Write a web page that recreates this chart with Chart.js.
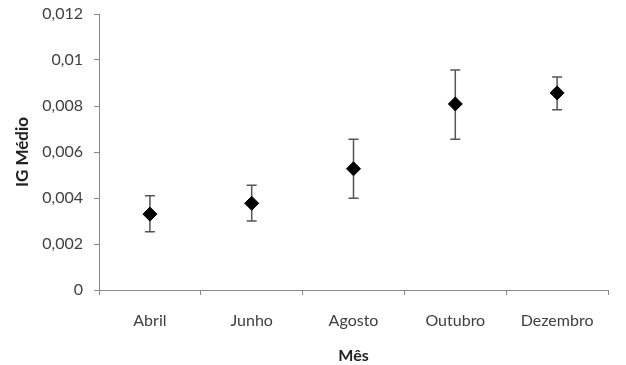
<!DOCTYPE html>
<html><head><meta charset="utf-8">
<script src="https://cdn.jsdelivr.net/npm/chart.js@4/dist/chart.umd.min.js"></script>
<style>html,body{margin:0;padding:0;background:#fff}#wrap{width:626px;height:365px}</style>
</head><body><div id="wrap"><canvas id="c" width="626" height="365"></canvas></div>
<script>
const months = ['Abril','Junho','Agosto','Outubro','Dezembro'];
const igMean = [0.0033, 0.00377, 0.00527, 0.00809, 0.00857];
const errHigh = [0.0041, 0.00455, 0.00655, 0.00957, 0.00926];
const errLow = [0.00253, 0.0030, 0.00399, 0.00655, 0.00784];
const yTicks = [0, 0.002, 0.004, 0.006, 0.008, 0.01, 0.012];

const FONT = 'Lato, "Open Sans", sans-serif';
const errorBars = {
  id: 'errorBars',
  beforeDatasetsDraw(chart) {
    const ctx = chart.ctx, xs = chart.scales.x, ys = chart.scales.y;
    ctx.save();
    ctx.strokeStyle = '#555';
    ctx.lineWidth = 1.5;
    months.forEach((m, i) => {
      const x = xs.getPixelForValue(i);
      const yt = ys.getPixelForValue(errHigh[i]);
      const yb = ys.getPixelForValue(errLow[i]);
      ctx.beginPath();
      ctx.moveTo(x, yt); ctx.lineTo(x, yb);
      ctx.moveTo(x - 5, yt); ctx.lineTo(x + 5, yt);
      ctx.moveTo(x - 5, yb); ctx.lineTo(x + 5, yb);
      ctx.stroke();
    });
    ctx.restore();
  }
};

new Chart(document.getElementById('c'), {
  type: 'line',
  data: {
    labels: months,
    datasets: [{
      data: igMean,
      showLine: false,
      pointStyle: 'rectRot',
      pointRadius: 7,
      pointBackgroundColor: '#000',
      pointBorderColor: '#000',
      pointBorderWidth: 1
    }]
  },
  options: {
    responsive: false,
    animation: false,
    layout: { padding: { top: 14, right: 18, left: 0, bottom: 0 } },
    plugins: { legend: { display: false }, tooltip: { enabled: false } },
    scales: {
      x: {
        offset: true,
        afterFit(s) { s.height = 75; s.paddingLeft = 0; s.paddingRight = 0; },
        grid: { offset: true, drawOnChartArea: false, tickLength: 5, color: '#888', lineWidth: 1 },
        border: { color: '#888', width: 1 },
        ticks: { color: '#404040', font: { family: FONT, size: 16 }, padding: 16 },
        title: { display: true, text: 'Mês', color: '#222', font: { family: FONT, size: 16, weight: 'bold' }, padding: { top: 0, bottom: 0 } }
      },
      y: {
        min: 0, max: 0.012,
        afterFit(s) { s.width = 99; s.paddingTop = 0; s.paddingBottom = 0; },
        afterBuildTicks(s) { s.ticks = yTicks.map(v => ({ value: v })); },
        grid: { drawOnChartArea: false, tickLength: 5, color: '#888', lineWidth: 1 },
        border: { color: '#888', width: 1 },
        ticks: {
          color: '#404040', font: { family: FONT, size: 16 }, padding: 11,
          callback: v => String(v).replace('.', ',')
        },
        title: { display: true, text: 'IG Médio', color: '#222', font: { family: FONT, size: 17, weight: 'bold' }, padding: { top: 12, bottom: 0 } }
      }
    }
  },
  plugins: [errorBars]
});
</script></body></html>
